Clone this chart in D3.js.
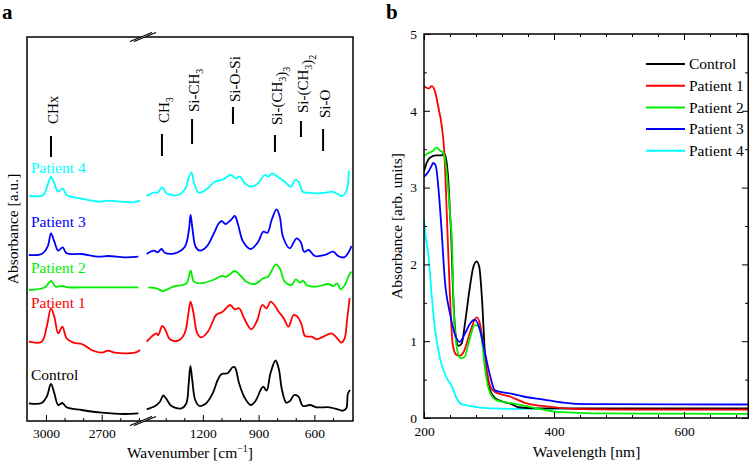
<!DOCTYPE html>
<html>
<head>
<meta charset="utf-8">
<script src="https://cdn.jsdelivr.net/npm/d3@7"></script>
<style>
  body { margin: 0; background: #fff; }
  svg { display: block; }
</style>
</head>
<body>
<svg width="750" height="462"></svg>
<script>
// ---- data -------------------------------------------------------------
var seriesNames = ["Control", "Patient 1", "Patient 2", "Patient 3", "Patient 4"];
var seriesColors = ["#000000", "#ff0000", "#00ee00", "#0000ff", "#00ffff"];

// FTIR spectra, [wavenumber cm-1, absorbance a.u. incl. vertical offset]
var ftirControl = [[3092,1.77],[3023,1.8],[2996,2.43],[2973,3.7],[2955,2.77],[2934,1.6],[2912,1.8],[2889,1.37],[2808,1.1],[2700,0.83],[2575,0.7],[2503,0.77],
  [1502,1.17],[1457,1.5],[1431,1.93],[1413,2.55],[1395,2.17],[1369,1.5],[1315,1.27],[1289,1.77],[1276,3.77],[1267,5.5],[1257,4.1],[1241,2.1],[1218,1.5],[1182,1.77],[1147,2.77],[1120,4.1],[1099,4.7],[1067,4.77],[1040,5.37],[1028,5.37],[1005,3.77],[978,2.43],[943,1.6],[916,2.03],[889,3.1],[875,3.43],[857,3.03],[836,4.77],[809,6.05],[792,5.27],[774,3.1],[751,1.83],[730,2.03],[708,2.6],[685,2.43],[662,1.5],[623,1.6],[588,1.37],[517,1.37],[463,1.1],[446,1.03],[428,1.27],[419,2.77],[407,3.1]];
var ftirP1 = [[3092,7.93],[3023,7.93],[2996,9.43],[2973,11.27],[2955,10.43],[2934,8.77],[2912,9.43],[2889,8.27],[2853,7.83],[2808,7.7],[2781,7.43],[2754,7.1],[2700,6.83],[2665,7.03],[2629,6.83],[2521,6.83],[2494,7.1],
  [1502,7.93],[1466,8.6],[1449,8.77],[1440,8.6],[1418,9.5],[1401,9.1],[1377,8.17],[1333,8.03],[1298,8.77],[1280,10.43],[1266,11.93],[1250,10.77],[1230,8.77],[1209,8.37],[1173,8.93],[1147,9.93],[1129,10.6],[1094,10.93],[1053,11.6],[1028,11.17],[1005,11.27],[978,10.27],[939,9.17],[907,10.1],[880,11.6],[857,11.27],[836,11.93],[815,11.6],[792,10.93],[765,10.27],[739,9.43],[712,10.6],[691,10.43],[668,9.6],[650,8.5],[614,8.43],[588,8.17],[552,8.43],[508,8.77],[481,8.37],[455,7.83],[437,8.27],[424,10.1],[410,12.3]];
var ftirP2 = [[3092,13.1],[3005,13.37],[2973,14.0],[2948,13.43],[2912,13.5],[2880,13.37],[2754,13.37],[2503,13.37],
  [1494,13.37],[1449,13.27],[1414,13.0],[1360,13.43],[1288,13.77],[1266,15.03],[1248,13.93],[1216,13.77],[1145,14.1],[1099,14.5],[1072,14.43],[1028,15.0],[1001,14.6],[965,13.93],[920,13.7],[875,14.27],[849,14.43],[807,15.67],[786,15.27],[759,13.93],[723,13.6],[699,14.17],[678,13.83],[660,14.03],[642,13.6],[588,13.43],[526,13.7],[499,13.5],[477,13.77],[459,13.17],[436,13.6],[413,14.6],[400,14.93]];
var ftirP3 = [[3092,16.6],[3023,16.7],[2991,17.43],[2973,18.77],[2955,17.93],[2934,17.03],[2910,17.37],[2889,16.77],[2808,16.7],[2718,16.43],[2665,16.5],[2575,16.37],[2503,16.43],
  [1503,16.7],[1462,17.03],[1444,16.87],[1422,17.2],[1405,16.83],[1351,16.77],[1297,17.43],[1275,19.1],[1266,20.6],[1255,19.1],[1239,17.43],[1216,17.03],[1180,17.43],[1145,18.6],[1114,19.77],[1099,20.0],[1078,19.7],[1049,20.1],[1028,20.5],[1010,19.6],[983,17.93],[942,17.2],[902,17.93],[875,18.93],[852,18.83],[830,20.1],[803,21.17],[786,20.43],[768,18.37],[732,17.27],[696,18.27],[674,17.93],[655,16.93],[630,17.1],[597,16.5],[543,16.6],[499,16.93],[472,16.5],[439,16.37],[414,16.93],[400,17.5]];
var ftirP4 = [[3090,22.5],[3015,22.6],[2988,23.77],[2973,24.43],[2957,23.83],[2934,22.93],[2910,23.27],[2889,22.6],[2817,22.27],[2709,21.93],[2665,22.03],[2602,21.93],[2530,21.87],[2494,22.03],
  [1503,22.5],[1462,22.87],[1444,22.83],[1418,23.37],[1395,22.77],[1333,22.6],[1293,23.27],[1275,24.43],[1261,24.83],[1247,23.77],[1222,22.83],[1180,23.17],[1136,23.93],[1091,24.17],[1049,24.6],[1024,24.27],[1001,24.43],[974,23.77],[939,23.43],[903,23.77],[867,24.6],[846,24.43],[828,24.77],[810,24.6],[786,24.27],[760,23.93],[725,23.43],[703,24.1],[685,23.93],[662,22.93],[636,22.83],[582,22.77],[538,22.83],[503,22.93],[476,22.7],[449,22.5],[426,23.1],[414,25.03]];

// UV-Vis spectra, [wavelength nm, absorbance]
var uvControl = [[200,3.21],[204,3.32],[209,3.39],[219,3.42],[227,3.42],[231,3.45],[235,3.32],[238,3.01],[240,2.66],[241.5,2.45],[245,1.58],[249,1.06],[253,0.94],[258,0.97],[263,1.23],[270,1.67],[276,1.97],[281,2.04],[285,1.97],[289,1.58],[294,0.8],[300,0.41],[309,0.26],[322,0.21],[335,0.18],[345,0.14],[373,0.126],[500,0.125],[700,0.126]];
var uvP1 = [[200,4.32],[207,4.29],[212,4.32],[217,4.25],[222,4.05],[227,3.82],[231,3.49],[236,2.45],[240,1.58],[244,0.97],[249,0.83],[254,0.81],[261,0.86],[271,1.12],[281,1.31],[286,1.23],[294,0.76],[302,0.41],[309,0.34],[332,0.28],[358,0.19],[389,0.15],[425,0.12],[500,0.11],[700,0.11]];
var uvP2 = [[200,3.41],[207,3.45],[214,3.48],[219,3.52],[225,3.48],[230,3.45],[235,3.19],[240,2.66],[243,2.3],[246,1.36],[251,0.89],[256,0.78],[262,0.79],[270,1.02],[278,1.21],[284,1.19],[289,1.02],[294,0.63],[302,0.32],[312,0.23],[337,0.19],[373,0.126],[404,0.08],[476,0.06],[700,0.055]];
var uvP3 = [[200,3.14],[207,3.21],[212,3.29],[214,3.32],[218,3.29],[222,3.01],[227,2.45],[232,1.8],[240,1.36],[248,1.08],[255,0.99],[263,1.1],[271,1.23],[278,1.28],[286,1.15],[294,0.84],[302,0.54],[309,0.36],[332,0.32],[353,0.28],[384,0.24],[414,0.2],[450,0.18],[700,0.176]];
var uvP4 = [[200,2.58],[202,2.4],[207,2.1],[212,1.58],[217,1.15],[225,0.76],[235,0.52],[243,0.41],[250,0.26],[258,0.18],[271,0.156],[302,0.126],[332,0.12],[700,0.12]];

// peak assignments (panel a)
var peakNames = [["CHx"], ["CH", ["3"]], ["Si-CH", ["3"]], ["Si-O-Si"], ["Si-(CH", ["3"], ")", ["3"]], ["Si-(CH", ["3"], ")", ["2"]], ["Si-O"]];
var peakWavenumbers = [2973, 1420, 1258, 1038, 812, 672, 553];

// tick values
var ftirMajorTicks = [3000, 2700, 1200, 900, 600];
var ftirMinorTicks = [2900, 2800, 2600, 2500, 1400, 1300, 1100, 1000, 800, 700, 500];
var uvMajorX = [200, 400, 600];
var uvMinorX = [240, 280, 320, 360, 440, 480, 520, 560, 640, 680];
var uvMajorY = [0, 1, 2, 3, 4, 5];
var uvMinorY = [0.5, 1.5, 2.5, 3.5, 4.5];

// ---- layout -----------------------------------------------------------
var serif = "'Liberation Serif', 'DejaVu Serif', serif";
var svg = d3.select("svg").attr("font-family", serif);

var aL = 27, aR = 353, aT = 37, aB = 421, aBreak = 143;
var bL = 424, bR = 749, bT = 34, bB = 418;

// label / marker offsets for panel a (pixels)
var peakLineTop = [136, 134, 119, 107, 135, 121, 129];
var peakLineBottom = [157, 156, 144, 124, 152, 137, 151];
var peakTextStart = [124, 123, 112, 102, 125, 113, 118];
var seriesLabelY = [380, 308, 273, 227, 173];

// ---- panel a ----------------------------------------------------------
var xa1 = d3.scaleLinear().domain([3102, 2478]).range([aL, aBreak]);
var xa2 = d3.scaleLinear().domain([1522, 392]).range([aBreak, aR]);
var ya = d3.scaleLinear().domain([0, 38.4]).range([aB, aT]);
function xa(w) { return w > 2000 ? xa1(w) : xa2(w); }

var lineA = d3.line()
    .x(function(d) { return xa(d[0]); })
    .y(function(d) { return ya(d[1]); })
    .curve(d3.curveCatmullRom.alpha(0.5));

var ftir = [ftirControl, ftirP1, ftirP2, ftirP3, ftirP4];
ftir.forEach(function(s, i) {
    [s.filter(function(d) { return d[0] > 2000; }), s.filter(function(d) { return d[0] < 2000; })]
        .forEach(function(seg) {
            svg.append("path")
                .attr("d", lineA(seg))
                .attr("fill", "none")
                .attr("stroke", seriesColors[i])
                .attr("stroke-width", 1.8)
                .attr("stroke-linejoin", "round");
        });
    svg.append("text")
        .attr("x", 31)
        .attr("y", seriesLabelY[i])
        .attr("font-size", 15.5)
        .attr("fill", seriesColors[i])
        .text(seriesNames[i]);
});

// frame
svg.append("rect")
    .attr("x", aL).attr("y", aT)
    .attr("width", aR - aL).attr("height", aB - aT)
    .attr("fill", "none").attr("stroke", "#000").attr("stroke-width", 1.5);

function styleAxis(g) {
    g.select(".domain").remove();
    g.attr("font-family", serif).attr("font-size", 13.5);
    g.selectAll("line").attr("stroke", "#000").attr("stroke-width", 1);
    g.selectAll("text").attr("fill", "#000");
}

[[xa1, function(v) { return v > 2000; }], [xa2, function(v) { return v < 2000; }]].forEach(function(p) {
    svg.append("g")
        .attr("transform", "translate(0," + aB + ")")
        .call(d3.axisBottom(p[0]).tickValues(ftirMajorTicks.filter(p[1]))
            .tickSizeInner(-6).tickSizeOuter(0).tickPadding(7).tickFormat(d3.format("d")))
        .call(styleAxis);
    svg.append("g")
        .attr("transform", "translate(0," + aB + ")")
        .call(d3.axisBottom(p[0]).tickValues(ftirMinorTicks.filter(p[1]))
            .tickSizeInner(-3).tickSizeOuter(0).tickFormat(""))
        .call(styleAxis);
});

// axis break marks
[aT, aB].forEach(function(y) {
    var g = svg.append("g");
    g.append("polygon")
        .attr("points", [[aBreak - 13, y + 4.5], [aBreak + 9, y - 4.5], [aBreak + 13, y - 4.5], [aBreak - 9, y + 4.5]].join(" "))
        .attr("fill", "#fff");
    [-2, 2].forEach(function(o) {
        g.append("line")
            .attr("x1", aBreak + o - 11).attr("y1", y + 4.5)
            .attr("x2", aBreak + o + 11).attr("y2", y - 4.5)
            .attr("stroke", "#000").attr("stroke-width", 1.2);
    });
});

// peak assignment labels
peakNames.forEach(function(parts, i) {
    var x = xa(peakWavenumbers[i]);
    svg.append("line")
        .attr("x1", x).attr("x2", x)
        .attr("y1", peakLineTop[i]).attr("y2", peakLineBottom[i])
        .attr("stroke", "#000").attr("stroke-width", 2);
    var t = svg.append("text")
        .attr("transform", "translate(" + (x + 7) + "," + peakTextStart[i] + ") rotate(-90)")
        .attr("font-size", 15);
    parts.forEach(function(p) {
        if (typeof p === "string") {
            t.append("tspan").text(p);
        } else {
            t.append("tspan").attr("font-size", 10).attr("dy", 4).text(p[0]);
            t.append("tspan").attr("font-size", 15).attr("dy", -4).text("");
        }
    });
});

// axis titles a
var xtA = svg.append("text")
    .attr("x", (aL + aR) / 2).attr("y", 458)
    .attr("text-anchor", "middle").attr("font-size", 15.5);
xtA.append("tspan").text("Wavenumber [cm");
xtA.append("tspan").attr("font-size", 10).attr("dy", -6).text("\u22121");
xtA.append("tspan").attr("dy", 6).text("]");

svg.append("text")
    .attr("transform", "translate(18," + (aT + aB) / 2 + ") rotate(-90)")
    .attr("text-anchor", "middle").attr("font-size", 15.5)
    .text("Absorbance [a.u.]");

svg.append("text").attr("x", 2).attr("y", 19)
    .attr("font-size", 21).attr("font-weight", "bold").text("a");

// ---- panel b ----------------------------------------------------------
var xb = d3.scaleLinear().domain([200, 700]).range([bL, bR]);
var yb = d3.scaleLinear().domain([0, 5]).range([bB, bT]);

svg.append("defs").append("clipPath").attr("id", "clipb")
    .append("rect").attr("x", bL).attr("y", bT).attr("width", bR - bL).attr("height", bB - bT);

var lineB = d3.line()
    .x(function(d) { return xb(d[0]); })
    .y(function(d) { return yb(d[1]); })
    .curve(d3.curveMonotoneX);

var uv = [uvControl, uvP1, uvP2, uvP3, uvP4];
var drawOrder = [4, 0, 1, 2, 3];
drawOrder.forEach(function(i) {
    svg.append("path")
        .attr("clip-path", "url(#clipb)")
        .attr("d", lineB(uv[i]))
        .attr("fill", "none")
        .attr("stroke", seriesColors[i])
        .attr("stroke-width", 1.8)
        .attr("stroke-linejoin", "round");
});

svg.append("rect")
    .attr("x", bL).attr("y", bT)
    .attr("width", bR - bL - 0.75).attr("height", bB - bT)
    .attr("fill", "none").attr("stroke", "#000").attr("stroke-width", 1.5);

function bAxis(axisFn, scale, transform, vals, len, labels, pad) {
    var ax = axisFn(scale).tickValues(vals).tickSizeInner(-len).tickSizeOuter(0);
    if (labels) ax.tickPadding(pad).tickFormat(d3.format("d")); else ax.tickFormat("");
    svg.append("g").attr("transform", transform).call(ax).call(styleAxis);
}
bAxis(d3.axisBottom, xb, "translate(0," + bB + ")", uvMajorX, 6, true, 8);
bAxis(d3.axisBottom, xb, "translate(0," + bB + ")", uvMinorX, 3, false);
bAxis(d3.axisTop, xb, "translate(0," + bT + ")", uvMajorX, 6, false);
bAxis(d3.axisTop, xb, "translate(0," + bT + ")", uvMinorX, 3, false);
bAxis(d3.axisLeft, yb, "translate(" + bL + ",0)", uvMajorY, 6, true, 7);
bAxis(d3.axisLeft, yb, "translate(" + bL + ",0)", uvMinorY, 3, false);
bAxis(d3.axisRight, yb, "translate(" + (bR - 1) + ",0)", uvMajorY, 6, false);
bAxis(d3.axisRight, yb, "translate(" + (bR - 1) + ",0)", uvMinorY, 3, false);

// legend
var legend = svg.append("g").attr("transform", "translate(646,64)");
seriesNames.forEach(function(name, i) {
    var row = legend.append("g").attr("transform", "translate(0," + (i * 21.7) + ")");
    row.append("line").attr("x1", 0).attr("x2", 39)
        .attr("stroke", seriesColors[i]).attr("stroke-width", 2);
    row.append("text").attr("x", 43).attr("dy", "0.33em")
        .attr("font-size", 15.5).text(name);
});

svg.append("text")
    .attr("x", (bL + bR) / 2).attr("y", 457)
    .attr("text-anchor", "middle").attr("font-size", 15.5)
    .text("Wavelength [nm]");

svg.append("text")
    .attr("transform", "translate(402," + (bT + bB) / 2 + ") rotate(-90)")
    .attr("text-anchor", "middle").attr("font-size", 15.5)
    .text("Absorbance [arb. units]");

svg.append("text").attr("x", 386).attr("y", 19)
    .attr("font-size", 21).attr("font-weight", "bold").text("b");
</script>
</body>
</html>
